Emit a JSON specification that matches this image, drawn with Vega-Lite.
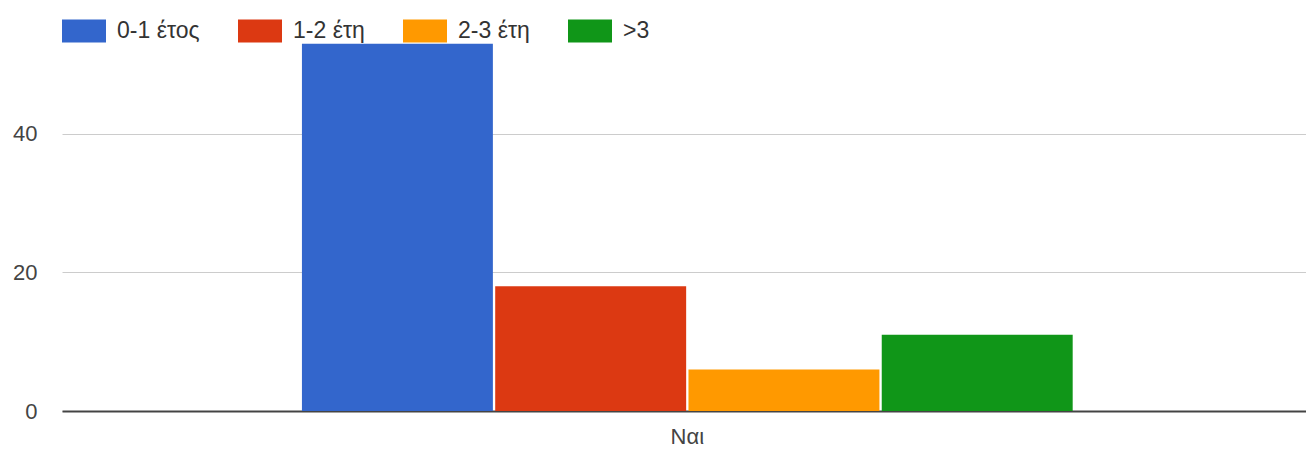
{
  "$schema": "https://vega.github.io/schema/vega-lite/v6.json",
  "autosize": {"type": "none"},
  "width": 1244,
  "height": 381,
  "padding": {"left": 62, "top": 30, "right": 0, "bottom": 39},
  "background": "white",
  "data": {"values": [
    {"answer": "Ναι", "group": "0-1 έτος", "count": 53},
    {"answer": "Ναι", "group": "1-2 έτη", "count": 18},
    {"answer": "Ναι", "group": "2-3 έτη", "count": 6},
    {"answer": "Ναι", "group": ">3", "count": 11}
  ]},
  "config": {
    "view": {"stroke": null},
    "font": "Liberation Sans"
  },
  "mark": {"type": "bar"},
  "encoding": {
    "x": {
      "field": "answer", "type": "nominal", "title": null,
      "scale": {"paddingInner": 0, "paddingOuter": 0.307, "align": 0.507},
      "axis": {"labelAngle": 0, "labelFontSize": 22, "labelColor": "#444", "ticks": false, "labelPadding": 15, "domainColor": "#444", "domainWidth": 2, "labelFont": "Liberation Sans"}
    },
    "xOffset": {
      "field": "group", "type": "nominal",
      "sort": ["0-1 έτος", "1-2 έτη", "2-3 έτη", ">3"],
      "scale": {"paddingInner": 0.012, "paddingOuter": 0}
    },
    "y": {
      "field": "count", "type": "quantitative", "title": null,
      "scale": {"domain": [0, 55], "nice": false},
      "axis": {"values": [0, 20, 40], "domain": false, "ticks": false, "gridColor": "#ccc", "labelFontSize": 22, "labelColor": "#444", "labelPadding": 25, "labelFont": "Liberation Sans"}
    },
    "color": {
      "field": "group", "type": "nominal",
      "sort": ["0-1 έτος", "1-2 έτη", "2-3 έτη", ">3"],
      "scale": {"domain": ["0-1 έτος", "1-2 έτη", "2-3 έτη", ">3"], "range": ["#3366cc", "#dc3912", "#ff9900", "#109618"]},
      "legend": {
        "title": null, "orient": "none", "direction": "horizontal",
        "legendX": 0, "legendY": -21, "padding": 0,
        "symbolType": "M-1,-0.52H1V0.52H-1Z", "symbolSize": 1936, "symbolStrokeWidth": 0, "symbolOpacity": 1,
        "labelFont": "Liberation Sans",
        "labelFontSize": 23, "labelColor": "#333", "labelOffset": 11, "columnPadding": 38
      }
    }
  }
}
